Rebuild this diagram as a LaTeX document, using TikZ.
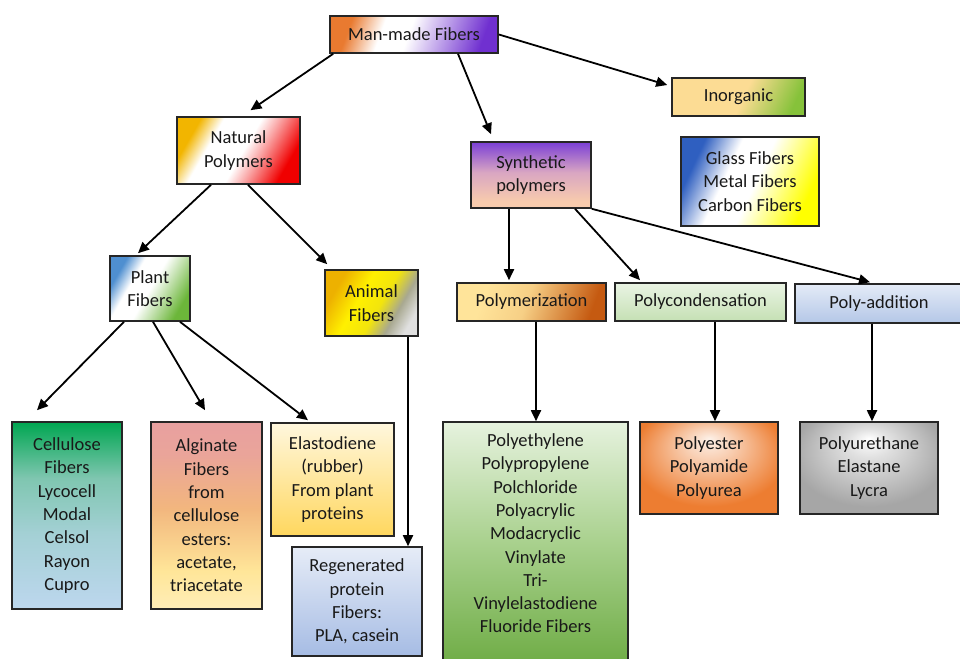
\documentclass[tikz,border=0pt]{standalone}
\usepackage{fontspec}
\setmainfont{Carlito}
\usetikzlibrary{arrows.meta,calc}
\definecolor{mmO}{HTML}{E97A30}
\definecolor{mmP}{HTML}{7030D0}
\definecolor{natG}{HTML}{F2B500}
\definecolor{natR}{HTML}{F00000}
\definecolor{synP}{HTML}{7B3FD6}
\definecolor{synM}{HTML}{D9A6C2}
\definecolor{synB}{HTML}{F8CBAD}
\definecolor{inoO}{HTML}{FCDC94}
\definecolor{inoG}{HTML}{86C23A}
\definecolor{glB}{HTML}{2F5FC0}
\definecolor{glY}{HTML}{FFFF00}
\definecolor{plB}{HTML}{4F8FD0}
\definecolor{plG}{HTML}{6CB63A}
\definecolor{anG}{HTML}{EDB100}
\definecolor{anY}{HTML}{FFF000}
\definecolor{anM}{HTML}{A8A890}
\definecolor{anW}{HTML}{E0E0E0}
\definecolor{pmY}{HTML}{FFE49A}
\definecolor{pmO}{HTML}{C55A11}
\definecolor{pcT}{HTML}{EAF4E4}
\definecolor{pcB}{HTML}{C5E0B4}
\definecolor{paT}{HTML}{E4EBF7}
\definecolor{paB}{HTML}{B4C7E7}
\definecolor{ceG}{HTML}{00A651}
\definecolor{ceM}{HTML}{7FC6B0}
\definecolor{ceB}{HTML}{BDD7EE}
\definecolor{alP}{HTML}{E8A0A0}
\definecolor{alO}{HTML}{F2B67E}
\definecolor{alY}{HTML}{FFE699}
\definecolor{elT}{HTML}{FFF7DD}
\definecolor{elB}{HTML}{FFD75E}
\definecolor{reT}{HTML}{E6ECF7}
\definecolor{reB}{HTML}{A6BCE4}
\definecolor{peT}{HTML}{E6F2DE}
\definecolor{peM}{HTML}{A9D18E}
\definecolor{peB}{HTML}{70AD47}
\definecolor{psO}{HTML}{ED7D31}
\definecolor{psW}{HTML}{FDF1E8}
\definecolor{puG}{HTML}{A6A6A6}
\definecolor{bord}{HTML}{262626}
\pgfdeclarehorizontalshading{shMM}{100bp}{color(0bp)=(mmO); color(26bp)=(mmO); color(38bp)=(white); color(48bp)=(white); color(75bp)=(mmP); color(100bp)=(mmP)}
\pgfdeclarehorizontalshading{shNat}{100bp}{color(0bp)=(natG); color(26bp)=(natG); color(36bp)=(white); color(52bp)=(white); color(60bp)=(natR!35!white); color(74bp)=(natR); color(100bp)=(natR)}
\pgfdeclareverticalshading{shSyn}{100bp}{color(0bp)=(synB); color(30bp)=(synB); color(52bp)=(synM); color(75bp)=(synP); color(100bp)=(synP)}
\pgfdeclarehorizontalshading{shIno}{100bp}{color(0bp)=(inoO); color(52bp)=(inoO); color(76bp)=(inoG); color(100bp)=(inoG)}
\pgfdeclarehorizontalshading{shGl}{100bp}{color(0bp)=(glB); color(26bp)=(glB); color(40bp)=(white); color(52bp)=(white); color(74bp)=(glY); color(100bp)=(glY)}
\pgfdeclarehorizontalshading{shPl}{100bp}{color(0bp)=(plB); color(26bp)=(plB); color(37bp)=(white); color(50bp)=(white); color(74bp)=(plG); color(100bp)=(plG)}
\pgfdeclarehorizontalshading{shAn}{100bp}{color(0bp)=(anG); color(27bp)=(anG); color(42bp)=(anY); color(55bp)=(anY!90!gray); color(66bp)=(anM); color(76bp)=(anW); color(100bp)=(anW)}
\pgfdeclarehorizontalshading{shPm}{100bp}{color(0bp)=(pmY); color(30bp)=(pmY); color(48bp)=(pmY!85!pmO); color(75bp)=(pmO); color(100bp)=(pmO)}
\pgfdeclareverticalshading{shPc}{100bp}{color(0bp)=(pcB); color(25bp)=(pcB); color(75bp)=(pcT); color(100bp)=(pcT)}
\pgfdeclareverticalshading{shPa}{100bp}{color(0bp)=(paB); color(25bp)=(paB); color(75bp)=(paT); color(100bp)=(paT)}
\pgfdeclareverticalshading{shCe}{100bp}{color(0bp)=(ceB); color(25bp)=(ceB); color(45bp)=(ceB!60!ceM); color(60bp)=(ceM); color(75bp)=(ceG); color(100bp)=(ceG)}
\pgfdeclareverticalshading{shAl}{100bp}{color(0bp)=(alY!70!white); color(25bp)=(alY!70!white); color(35bp)=(alY); color(52bp)=(alO); color(66bp)=(alP!80!alO); color(75bp)=(alP); color(100bp)=(alP)}
\pgfdeclareverticalshading{shEl}{100bp}{color(0bp)=(elB); color(25bp)=(elB); color(75bp)=(elT); color(100bp)=(elT)}
\pgfdeclareverticalshading{shRe}{100bp}{color(0bp)=(reB); color(25bp)=(reB); color(75bp)=(reT); color(100bp)=(reT)}
\pgfdeclareverticalshading{shPe}{100bp}{color(0bp)=(peB); color(25bp)=(peB); color(50bp)=(peM); color(75bp)=(peT); color(100bp)=(peT)}
\pgfdeclareradialshading{shPs}{\pgfpoint{0bp}{16bp}}{color(0bp)=(psW); color(8bp)=(psO!35!white); color(28bp)=(psO); color(50bp)=(psO)}
\pgfdeclareradialshading{shPu}{\pgfpoint{0bp}{16bp}}{color(0bp)=(white); color(8bp)=(puG!35!white); color(28bp)=(puG); color(50bp)=(puG)}
\tikzset{
  box/.style={draw=bord, line width=1.6pt, inner sep=0pt, align=center,
    font=\fontsize{18.5pt}{23.3pt}\selectfont, text=black!90},
  arr/.style={draw=black, line width=1.8pt, -{Triangle[length=11pt,width=10pt]}}
}
\begin{document}
\begin{tikzpicture}[x=1pt,y=-1pt]
\useasboundingbox (0,0) rectangle (960,658);
\node[box, shading=shMM, shading angle=-20, minimum width=168pt, minimum height=37pt] (mm) at (414,34.5) {Man-made Fibers};
\node[box, shading=shNat, shading angle=-30, minimum width=123pt, minimum height=67pt] (nat) at (238.5,150.5) {Natural\\Polymers};
\node[box, shading=shSyn, minimum width=120pt, minimum height=66pt] (syn) at (531,175) {Synthetic\\polymers};
\node[box, shading=shIno, shading angle=-25, minimum width=133pt, minimum height=38pt] (ino) at (738.5,97) {Inorganic};
\node[box, shading=shGl, shading angle=-25, minimum width=138pt, minimum height=89pt] (gl) at (750,181.5) {Glass Fibers\\Metal Fibers\\Carbon Fibers};
\node[box, shading=shPl, shading angle=-30, minimum width=80pt, minimum height=65pt] (pl) at (150,288.5) {Plant\\Fibers};
\node[box, shading=shAn, shading angle=-30, minimum width=93pt, minimum height=66pt] (an) at (371.5,303) {Animal\\Fibers};
\node[box, shading=shPm, shading angle=-20, minimum width=149pt, minimum height=38pt] (pm) at (531.5,302) {Polymerization};
\node[box, shading=shPc, minimum width=171pt, minimum height=38pt] (pc) at (700.5,302) {Polycondensation};
\node[box, shading=shPa, minimum width=168pt, minimum height=39pt] (pa) at (879,303.5) {Poly-addition};
\node[box, shading=shCe, minimum width=110pt, minimum height=187pt] (ce) at (67,515.5) {Cellulose\\Fibers\\Lycocell\\Modal\\Celsol\\Rayon\\Cupro};
\node[box, shading=shAl, minimum width=111pt, minimum height=187pt] (al) at (206.5,515.5) {Alginate\\Fibers\\from\\cellulose\\esters:\\acetate,\\triacetate};
\node[box, shading=shEl, minimum width=123pt, minimum height=113pt] (el) at (332.5,479.5) {Elastodiene\\(rubber)\\From plant\\proteins};
\node[box, shading=shRe, minimum width=130pt, minimum height=109pt] (re) at (357,601.5) {Regenerated\\protein\\Fibers:\\PLA, casein};
\node[box, shading=shPe, minimum width=185pt, minimum height=240pt] (pe) at (535.5,542) {Polyethylene\\Polypropylene\\Polchloride\\Polyacrylic\\Modacryclic\\Vinylate\\Tri-\\Vinylelastodiene\\Fluoride Fibers\\[-6pt]};
\node[box, shading=shPs, minimum width=138pt, minimum height=92pt] (ps) at (709,468) {Polyester\\Polyamide\\Polyurea};
\node[box, shading=shPu, minimum width=138pt, minimum height=92pt] (pu) at (869,468) {Polyurethane\\Elastane\\Lycra};
% connectors
\draw[arr] ($(mm.south west)+(4,0)$) -- ($(nat.north)+(12,-6)$);
\draw[arr] ($(mm.south)+(44,0)$) -- ($(syn.north)+(-40,-7)$);
\draw[arr] (mm.east) -- ($(ino.west)+(-4,-12)$);
\draw[arr] ($(nat.south)+(-27.5,0)$) -- ($(pl.north)+(-12,-2)$);
\draw[arr] ($(nat.south)+(9.5,0)$) -- ($(an.north west)+(3,-5)$);
\draw[arr] ($(pl.south)+(-26,0)$) -- ($(ce.north)+(-30,-11)$);
\draw[arr] ($(pl.south)+(3,0)$) -- ($(al.north)+(-1.5,-11)$);
\draw[arr] ($(pl.south)+(30,0)$) -- ($(el.north)+(-24.5,-2)$);
\draw[arr] ($(an.south)+(36.5,0)$) coordinate (t1) -- (t1 |- re.north);
\draw[arr] ($(syn.south)+(-22,0)$) coordinate (t2) -- ($(t2 |- pm.north)+(0,-2)$);
\draw[arr] ($(syn.south)+(44,0)$) -- ($(pc.north)+(-60.5,-2)$);
\draw[arr] (syn.south east) -- ($(pa.north)+(-9,-1)$);
\draw[arr] ($(pm.south)+(4.5,0)$) coordinate (t3) -- (t3 |- pe.north);
\draw[arr] ($(pc.south)+(14.5,0)$) coordinate (t4) -- (t4 |- ps.north);
\draw[arr] ($(pa.south)+(-7,0)$) coordinate (t5) -- (t5 |- pu.north);
\end{tikzpicture}
\end{document}
